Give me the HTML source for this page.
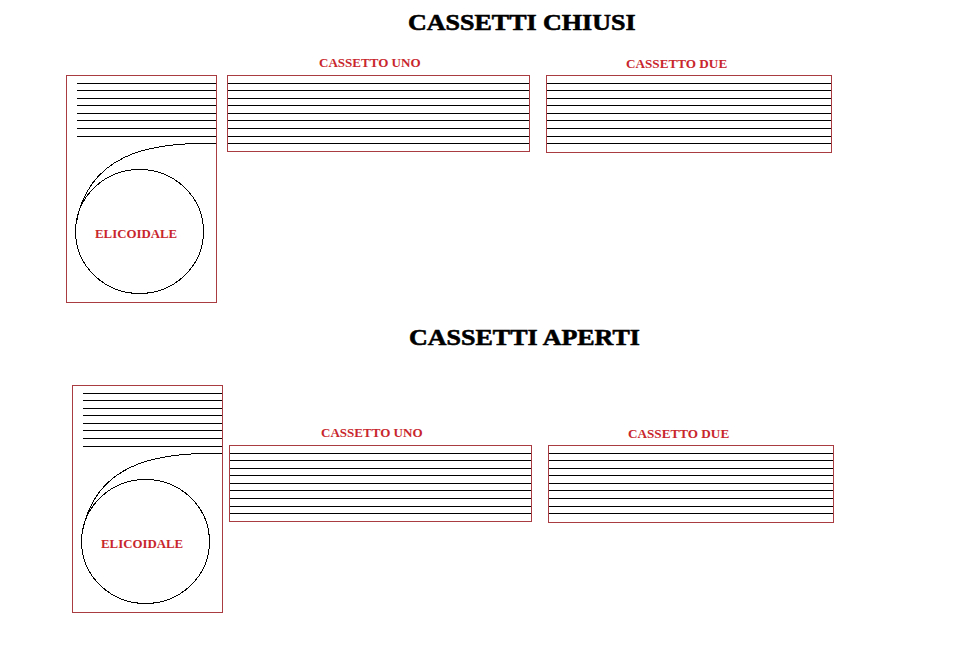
<!DOCTYPE html>
<html><head><meta charset="utf-8"><style>
html,body{margin:0;padding:0;background:#fff;width:966px;height:646px;overflow:hidden}
svg{position:absolute;left:0;top:0}
.t{position:absolute;font-family:"Liberation Serif",serif;font-weight:bold;line-height:1;white-space:nowrap;transform-origin:0 0}
</style></head><body>
<svg width="966" height="646" viewBox="0 0 966 646" shape-rendering="crispEdges">
<rect x="66.5" y="75.5" width="150" height="227" fill="none" stroke="#a83c40"/>
<path d="M77 83.5H216" stroke="#000"/>
<path d="M77 90.5H216" stroke="#000"/>
<path d="M77 98.5H216" stroke="#000"/>
<path d="M77 105.5H216" stroke="#000"/>
<path d="M77 113.5H216" stroke="#000"/>
<path d="M77 120.5H216" stroke="#000"/>
<path d="M77 128.5H216" stroke="#000"/>
<path d="M77 136.5H216" stroke="#000"/>
<ellipse cx="139.5" cy="231.5" rx="64" ry="62" fill="none" stroke="#000"/>
<path d="M216 143.5C149.13 141.7 86.87 154.11 75.64 226.19" fill="none" stroke="#000"/>
<rect x="72.5" y="385.5" width="150" height="227" fill="none" stroke="#a83c40"/>
<path d="M83 393.5H222" stroke="#000"/>
<path d="M83 400.5H222" stroke="#000"/>
<path d="M83 408.5H222" stroke="#000"/>
<path d="M83 415.5H222" stroke="#000"/>
<path d="M83 423.5H222" stroke="#000"/>
<path d="M83 430.5H222" stroke="#000"/>
<path d="M83 438.5H222" stroke="#000"/>
<path d="M83 446.5H222" stroke="#000"/>
<ellipse cx="145.5" cy="541.5" rx="64" ry="62" fill="none" stroke="#000"/>
<path d="M222 453.5C155.13 451.7 92.87 464.11 81.64 536.19" fill="none" stroke="#000"/>
<rect x="227.5" y="75.5" width="302" height="76" fill="none" stroke="#a83c40"/>
<rect x="546.5" y="75.5" width="285" height="77" fill="none" stroke="#a83c40"/>
<path d="M228 83.5H529M547 83.5H831" stroke="#000"/>
<path d="M228 90.5H529M547 90.5H831" stroke="#000"/>
<path d="M228 98.5H529M547 98.5H831" stroke="#000"/>
<path d="M228 105.5H529M547 105.5H831" stroke="#000"/>
<path d="M228 113.5H529M547 113.5H831" stroke="#000"/>
<path d="M228 120.5H529M547 120.5H831" stroke="#000"/>
<path d="M228 128.5H529M547 128.5H831" stroke="#000"/>
<path d="M228 136.5H529M547 136.5H831" stroke="#000"/>
<path d="M228 143.5H529M547 143.5H831" stroke="#000"/>
<rect x="229.5" y="445.5" width="302" height="76" fill="none" stroke="#a83c40"/>
<rect x="548.5" y="445.5" width="285" height="77" fill="none" stroke="#a83c40"/>
<path d="M230 453.5H531M549 453.5H833" stroke="#000"/>
<path d="M230 460.5H531M549 460.5H833" stroke="#000"/>
<path d="M230 468.5H531M549 468.5H833" stroke="#000"/>
<path d="M230 475.5H531M549 475.5H833" stroke="#000"/>
<path d="M230 483.5H531M549 483.5H833" stroke="#000"/>
<path d="M230 490.5H531M549 490.5H833" stroke="#000"/>
<path d="M230 498.5H531M549 498.5H833" stroke="#000"/>
<path d="M230 506.5H531M549 506.5H833" stroke="#000"/>
<path d="M230 513.5H531M549 513.5H833" stroke="#000"/>
</svg>
<div class="t" style="left:407.5px;top:9.6px;font-size:24px;color:#000;transform:scaleX(1.083);-webkit-text-stroke:0.6px #000">CASSETTI CHIUSI</div>
<div class="t" style="left:408.5px;top:324.6px;font-size:24px;color:#000;transform:scaleX(1.083);-webkit-text-stroke:0.6px #000">CASSETTI APERTI</div>
<div class="t" style="left:319px;top:57px;font-size:12px;color:#c8262c;transform:scaleX(1.086)">CASSETTO UNO</div>
<div class="t" style="left:626px;top:58px;font-size:12px;color:#c8262c;transform:scaleX(1.098)">CASSETTO DUE</div>
<div class="t" style="left:321px;top:427px;font-size:12px;color:#c8262c;transform:scaleX(1.086)">CASSETTO UNO</div>
<div class="t" style="left:628px;top:428px;font-size:12px;color:#c8262c;transform:scaleX(1.098)">CASSETTO DUE</div>
<div class="t" style="left:95px;top:228px;font-size:12px;color:#c8262c;transform:scaleX(1.07)">ELICOIDALE</div>
<div class="t" style="left:101px;top:538px;font-size:12px;color:#c8262c;transform:scaleX(1.07)">ELICOIDALE</div>
</body></html>
